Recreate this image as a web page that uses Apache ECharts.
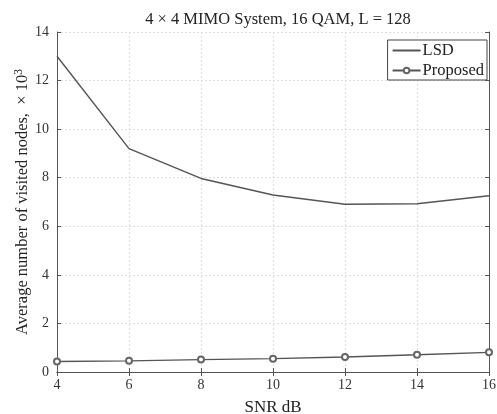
<!DOCTYPE html>
<html><head><meta charset="utf-8">
<script src="https://cdn.jsdelivr.net/npm/echarts@6/dist/echarts.min.js"></script>
<style>html,body{margin:0;padding:0;background:#fff}#c{width:497px;height:414px}</style>
</head><body><div id="c"></div>
<script>
const snr = [4, 6, 8, 10, 12, 14, 16];
const lsd = [13.0, 9.2, 7.97, 7.29, 6.91, 6.93, 7.26];
const proposed = [0.43, 0.46, 0.51, 0.55, 0.62, 0.71, 0.81];
const titleText = '4 \u00d7 4 MIMO System, 16 QAM, L = 128';
const xName = 'SNR dB';
const F = 'Liberation Serif';
const C = '#333';
const AX = '#555';
const chart = echarts.init(document.getElementById('c'));
const boxAxis = {
  axisLine: {show: true, lineStyle: {color: AX}},
  axisTick: {show: true, inside: true, length: 4, lineStyle: {color: AX}},
  axisLabel: {show: false}, splitLine: {show: false}
};
chart.setOption({
  animation: false,
  title: {text: titleText, left: 273, textAlign: 'center', top: 6,
    textStyle: {fontFamily: F, fontSize: 16.5, fontWeight: 'normal', color: '#222'}},
  grid: {left: 57, right: 8, top: 32, bottom: 42, containLabel: false, outerBoundsMode: 'none'},
  legend: {
    orient: 'vertical', right: 10, top: 40,
    data: [{name: 'LSD', itemStyle: {opacity: 0}}, {name: 'Proposed'}],
    borderColor: '#444', borderWidth: 1, backgroundColor: '#fff', borderRadius: 0,
    padding: [2, 3, 1, 4], itemGap: 3, itemWidth: 28, itemHeight: 7,
    textStyle: {fontFamily: F, fontSize: 16.5, color: '#222', padding: [0, 0, 0, -3]}
  },
  xAxis: [{
    type: 'value', min: 4, max: 16, interval: 2,
    name: xName, nameLocation: 'middle', nameGap: 27, nameMoveOverlap: false,
    nameTextStyle: {fontFamily: F, fontSize: 17, color: '#222'},
    axisLine: {lineStyle: {color: AX}},
    axisTick: {inside: true, length: 4, lineStyle: {color: AX}},
    axisLabel: {fontFamily: F, fontSize: 14, color: C, margin: 6},
    splitLine: {show: true, lineStyle: {color: '#ddd', type: [2, 2]}}
  }, Object.assign({type: 'value', position: 'top', min: 4, max: 16, interval: 2}, boxAxis)],
  yAxis: [{
    type: 'value', min: 0, max: 14, interval: 2,
    name: '{a|Average number of visited nodes,  \u00d7 10}{s|3}', nameLocation: 'middle', nameGap: 25, nameMoveOverlap: false,
    nameTextStyle: {rich: {a: {fontFamily: F, fontSize: 16.5, color: '#222'}, s: {fontFamily: F, fontSize: 11.5, color: '#222', verticalAlign: 'top', padding: [0, 0, 7, 0]}}},
    axisLine: {show: true, lineStyle: {color: AX}},
    axisTick: {inside: true, length: 4, lineStyle: {color: AX}},
    axisLabel: {fontFamily: F, fontSize: 14, color: C, margin: 8},
    splitLine: {show: true, lineStyle: {color: '#ddd', type: [2, 2]}}
  }, Object.assign({type: 'value', position: 'right', min: 0, max: 14, interval: 2}, boxAxis)],
  series: [
    {name: 'LSD', type: 'line', data: snr.map((x, i) => [x, lsd[i]]),
      symbol: 'none', lineStyle: {color: '#555', width: 1.4}, itemStyle: {color: '#555'}},
    {name: 'Proposed', type: 'line', data: snr.map((x, i) => [x, proposed[i]]),
      symbol: 'emptyCircle', symbolSize: 6, lineStyle: {color: '#555', width: 1.4},
      itemStyle: {color: '#666', borderColor: '#666', borderWidth: 1}}
  ]
});
</script></body></html>
